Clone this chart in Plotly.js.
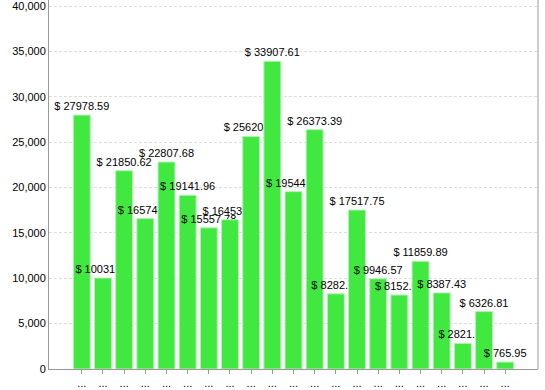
<!DOCTYPE html>
<html>
<head>
<meta charset="utf-8">
<script src="https://cdn.plot.ly/plotly-3.0.1.min.js"></script>
<style>html,body{margin:0;padding:0;background:#fff;}#chart{width:545px;height:390px;}</style>
</head>
<body>
<div id="chart"></div>
<script>
var categories = ["c01","c02","c03","c04","c05","c06","c07","c08","c09","c10","c11","c12","c13","c14","c15","c16","c17","c18","c19","c20","c21"];
var tickLabels = ["...","...","...","...","...","...","...","...","...","...","...","...","...","...","...","...","...","...","...","...","..."];
var values = [27978.59, 10031.25, 21850.62, 16574.31, 22807.68, 19141.96, 15557.78, 16453.12, 25620.44, 33907.61, 19544.27, 26373.39, 8282.45, 17517.75, 9946.57, 8152.63, 11859.89, 8387.43, 2821.85, 6326.81, 765.95];
var labels = values.map(function(v){ return "$ " + v; });
var yTicks = [0, 5000, 10000, 15000, 20000, 25000, 30000, 35000, 40000];
var yTickText = ["0", "5,000", "10,000", "15,000", "20,000", "25,000", "30,000", "35,000", "40,000"];

var trace = {
  type: "bar",
  x: categories,
  y: values,
  text: labels,
  textposition: "outside",
  constraintext: "none",
  cliponaxis: false,
  textfont: {family: "Liberation Sans, Arial, sans-serif", size: 11, color: "#000"},
  marker: {color: "#40e840", line: {color: "#b8f0b8", width: 1}},
  hoverinfo: "none"
};

var layout = {
  width: 545, height: 390,
  margin: {l: 49, r: 7, t: 0, b: 21, pad: 0},
  paper_bgcolor: "#fff", plot_bgcolor: "#fff",
  bargap: 0.2,
  showlegend: false,
  font: {family: "Liberation Sans, Arial, sans-serif", size: 11, color: "#000"},
  xaxis: {
    type: "category",
    range: [-1.55, 21.55],
    tickmode: "array",
    tickvals: categories,
    ticktext: tickLabels,
    ticks: "outside", ticklen: 4, tickcolor: "#999",
    showline: true, linecolor: "#999", linewidth: 1, mirror: false,
    showgrid: false, zeroline: false, fixedrange: true,
    automargin: false,
    tickfont: {size: 11, color: "#000"}
  },
  yaxis: {
    range: [0, 40661],
    tickmode: "array",
    tickvals: yTicks,
    ticktext: yTickText,
    ticklabeloverflow: "allow",
    showline: true, linecolor: "#999", linewidth: 1,
    showgrid: true, gridcolor: "#dddddd", griddash: "3px,2px", gridwidth: 1,
    zeroline: false, ticks: "", fixedrange: true,
    automargin: false,
    tickfont: {size: 11, color: "#000"}
  },
  shapes: [
    {type: "line", xref: "paper", yref: "paper", x0: 1, x1: 1, y0: 0, y1: 1, line: {color: "#999", width: 1}}
  ]
};

Plotly.newPlot("chart", [trace], layout, {displayModeBar: false, staticPlot: true});
</script>
</body>
</html>
